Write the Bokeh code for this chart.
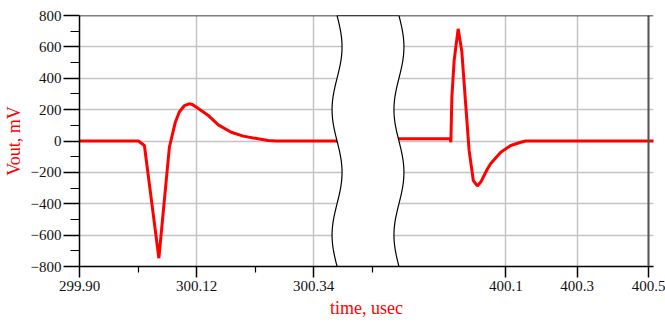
import numpy as np
from bokeh.plotting import figure
from bokeh.models import Range1d, FixedTicker, CustomJSTickFormatter, Span
from bokeh.embed import file_html
from bokeh.resources import INLINE

# ---- data ----
left_t = [299.90, 300.0107, 300.0220, 300.0492, 300.0689, 300.0745, 300.0801, 300.0876,
          300.0970, 300.1064, 300.1120, 300.1233, 300.1420, 300.1608, 300.1852, 300.2077,
          300.2358, 300.2546, 300.2696, 300.45]
left_v = [0, 0, -29, -747, -40, 40, 120, 185, 225, 237, 233, 207, 163, 103, 56, 31,
          14, 3, 0, 0]

right_t = [399.7783, 399.9442, 399.9462, 399.9490, 399.9554, 399.9666, 399.9769, 399.9881,
           399.9973, 400.0091, 400.0203, 400.0301, 400.0488, 400.0580, 400.0860, 400.1140,
           400.1420, 400.1559, 400.52]
right_v = [15, 15, -8, 280, 513, 715, 570, 223, -60, -252, -286, -262, -177, -143, -71,
           -29, -8, 0, 0]

left_ticks = [299.90, 300.12, 300.34]
left_tick_labels = ["299.90", "300.12", "300.34"]
left_minor = [300.01, 300.23, 300.45]
right_ticks = [400.1, 400.3, 400.5]
right_tick_labels = ["400.1", "400.3", "400.5"]
y_ticks = [-800, -600, -400, -200, 0, 200, 400, 600, 800]
y_minor = [-700, -500, -300, -100, 100, 300, 500, 700]

# ---- ranges of the two segments of the broken axis ----
L0, L1 = 299.90, 300.9788
R0, R1 = 398.9056, 400.5140

p = figure(width=665, height=322, output_backend="svg", toolbar_location=None,
           x_range=Range1d(L0, L1), y_range=Range1d(-800, 800),
           min_border_left=78, min_border_right=12, min_border_top=15, min_border_bottom=56)
p.extra_x_ranges = {"right": Range1d(R0, R1)}
p.outline_line_color = None
p.background_fill_color = "white"
p.border_fill_color = "white"

def to_left(t):
    return L0 + (t - R0) * (L1 - L0) / (R1 - R0)

tick_pos = left_ticks + [to_left(t) for t in right_ticks]
tick_labs = left_tick_labels + right_tick_labels
xticker = FixedTicker(ticks=tick_pos, minor_ticks=left_minor)
yticker = FixedTicker(ticks=y_ticks, minor_ticks=y_minor)

xax = p.xaxis[0]
yax = p.yaxis[0]
xax.ticker = xticker
p.xgrid[0].ticker = xticker
yax.ticker = yticker
p.ygrid[0].ticker = yticker
xax.formatter = CustomJSTickFormatter(
    args=dict(pos=tick_pos, labs=tick_labs),
    code="""
    for (let i = 0; i < pos.length; i++) {
        if (Math.abs(pos[i] - tick) < 1e-6) { return labs[i]; }
    }
    return "";
    """)

for g in (p.xgrid[0], p.ygrid[0]):
    g.grid_line_color = "#c4c4c4"
    g.grid_line_width = 1.5

for ax in (xax, yax):
    ax.axis_line_color = "black"
    ax.axis_line_width = 1.5
    ax.major_tick_line_color = "black"
    ax.major_tick_line_width = 1.5
    ax.minor_tick_line_color = "black"
    ax.minor_tick_line_width = 1.2
    ax.major_tick_in = 0
    ax.minor_tick_in = 0
    ax.major_label_text_font = "Liberation Serif"
    ax.major_label_text_font_size = "15px"
    ax.major_label_text_color = "#111111"
    ax.axis_label_text_font = "Liberation Serif"
    ax.axis_label_text_font_size = "18px"
    ax.axis_label_text_font_style = "normal"
    ax.axis_label_text_color = "red"

xax.major_tick_out = 11
xax.minor_tick_out = 6
xax.major_label_standoff = 3
xax.axis_label_standoff = 4
xax.axis_label = "time, usec"

yax.major_tick_out = 16
yax.minor_tick_out = 9
yax.major_label_standoff = 2
yax.axis_label_standoff = 4
yax.axis_label = "Vout, mV"

# signal
p.line(left_t, left_v, line_color="red", line_width=3)
p.line(right_t, right_v, line_color="red", line_width=3, x_range_name="right")

# dark line at 400.5 and top border
p.add_layout(Span(location=400.5, dimension="height", x_range_name="right",
                  line_color="#555555", line_width=2))
p.add_layout(Span(location=800, dimension="width", line_color="black", line_width=1.5))

# axis break band (decoration)
s = np.linspace(0, 1, 120)
yy = 800 - 1600 * s
px_per = 533.0
b_left = L0 + (336 - 78) / px_per
b_right = L0 + (398 - 78) / px_per
amp = 5 / px_per
xl = b_left + amp * np.sin(4 * np.pi * s)
xr = b_right + amp * np.sin(4 * np.pi * s)
p.patch(np.concatenate([xl, xr[::-1]]), np.concatenate([yy, yy[::-1]]),
        fill_color="white", line_color="black", line_width=1.2)

open("out.html", "w").write(file_html(p, INLINE))
